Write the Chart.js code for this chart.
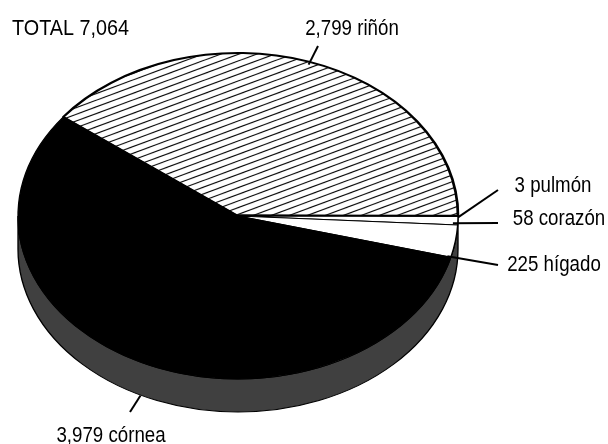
<!DOCTYPE html>
<html>
<head>
<meta charset="utf-8">
<style>
  html, body { margin: 0; padding: 0; background: #fff; }
  canvas { display: block; }
</style>
<script src="https://cdn.jsdelivr.net/npm/chart.js@4"></script>
</head>
<body>
<canvas id="chart" width="608" height="444" style="width:608px;height:444px"></canvas>
<script>
const categories = ['riñón', 'pulmón', 'corazón', 'hígado', 'córnea'];
const values = [2799, 3, 58, 225, 3979];
const valueLabels = ['2,799', '3', '58', '225', '3,979'];
const totalLabel = 'TOTAL 7,064';

// tilted look: the round pie gets stretched sideways, side wall is drawn under it
const stretchX = 220 / 163;
const depth = 33;
// no narrow font here, so the text gets squeezed to this share of its width
const textSqueeze = 0.85;

function hatchPattern() {
  const tile = document.createElement('canvas');
  tile.width = 36;
  tile.height = 20;
  const c = tile.getContext('2d');
  c.strokeStyle = '#000';
  c.lineWidth = 1.1;
  const gap = 20 / 3;
  for (let k = -6; k <= 16; k++) {
    c.beginPath();
    c.moveTo(-36, k * gap + 2 * gap);
    c.lineTo(72, k * gap - 4 * gap);
    c.stroke();
  }
  const p = c.createPattern(tile, 'repeat');
  p.setTransform(new DOMMatrix().scale(1 / stretchX, 1));
  return p;
}

const fills = [hatchPattern(), '#000', '#fff', '#fff', '#000'];
const borders = [2, 3, 1, 1, 1];

// label text spot (baseline) and leader line, leader start is relative to the slice's rim midpoint
const labelSpots = [
  { x: 352, y: 35, from: [0, 3], to: [318, 46] },
  { x: 553, y: 192, from: [0, 1], to: [498, 190] },
  { x: 559, y: 225, from: [-5, 2.5], to: [498, 223] },
  { x: 554, y: 271, from: [-8, 15], to: [498, 265] },
  { x: 111, y: 442, from: [-1, 33], to: [130, 412] }
];

function squeezedText(ctx, text, x, y, squeeze) {
  ctx.fillText(text, x, y, ctx.measureText(text).width * squeeze);
}

const pieLook = {
  id: 'pieLook',
  beforeDatasetsDraw(chart) {
    const ctx = chart.ctx;
    const arc = chart.getDatasetMeta(0).data[0];
    const r = arc.outerRadius;
    ctx.save();
    ctx.translate(arc.x, arc.y);
    ctx.scale(stretchX, 1);
    ctx.translate(-arc.x, -arc.y);
    ctx.save();
    ctx.beginPath();
    ctx.arc(arc.x, arc.y + depth, r, 0, Math.PI);
    ctx.arc(arc.x, arc.y, r, Math.PI, 0, true);
    ctx.closePath();
    ctx.fillStyle = '#404040';
    ctx.strokeStyle = '#000';
    ctx.lineWidth = 1;
    ctx.fill();
    ctx.stroke();
    ctx.restore();
  },
  afterDatasetsDraw(chart) {
    const ctx = chart.ctx;
    ctx.restore();
    ctx.save();
    ctx.font = '22px "Liberation Sans", sans-serif';
    ctx.fillStyle = '#000';
    ctx.strokeStyle = '#000';
    ctx.lineWidth = 2;
    chart.getDatasetMeta(0).data.forEach((arc, i) => {
      const spot = labelSpots[i];
      const mid = (arc.startAngle + arc.endAngle) / 2;
      const sx = arc.x + Math.cos(mid) * arc.outerRadius * stretchX + spot.from[0];
      const sy = arc.y + Math.sin(mid) * arc.outerRadius + spot.from[1];
      ctx.beginPath();
      ctx.moveTo(sx, sy);
      ctx.lineTo(spot.to[0], spot.to[1]);
      ctx.stroke();
      ctx.textAlign = 'center';
      squeezedText(ctx, valueLabels[i] + ' ' + categories[i], spot.x, spot.y, textSqueeze);
    });
    ctx.textAlign = 'left';
    squeezedText(ctx, totalLabel, 12, 35, 0.9);
    ctx.restore();
  }
};

new Chart(document.getElementById('chart'), {
  type: 'pie',
  data: {
    labels: categories,
    datasets: [{
      data: values,
      backgroundColor: fills,
      borderColor: '#000',
      borderWidth: borders,
      clip: false
    }]
  },
  options: {
    responsive: false,
    animation: false,
    rotation: -52.6,
    // the chart takes the widest border off the radius, top and bottom make up for that
    layout: { padding: { left: 18, right: 150, top: 51.5, bottom: 63.5 } },
    plugins: {
      legend: { display: false },
      tooltip: { enabled: false }
    }
  },
  plugins: [pieLook]
});
</script>
</body>
</html>
